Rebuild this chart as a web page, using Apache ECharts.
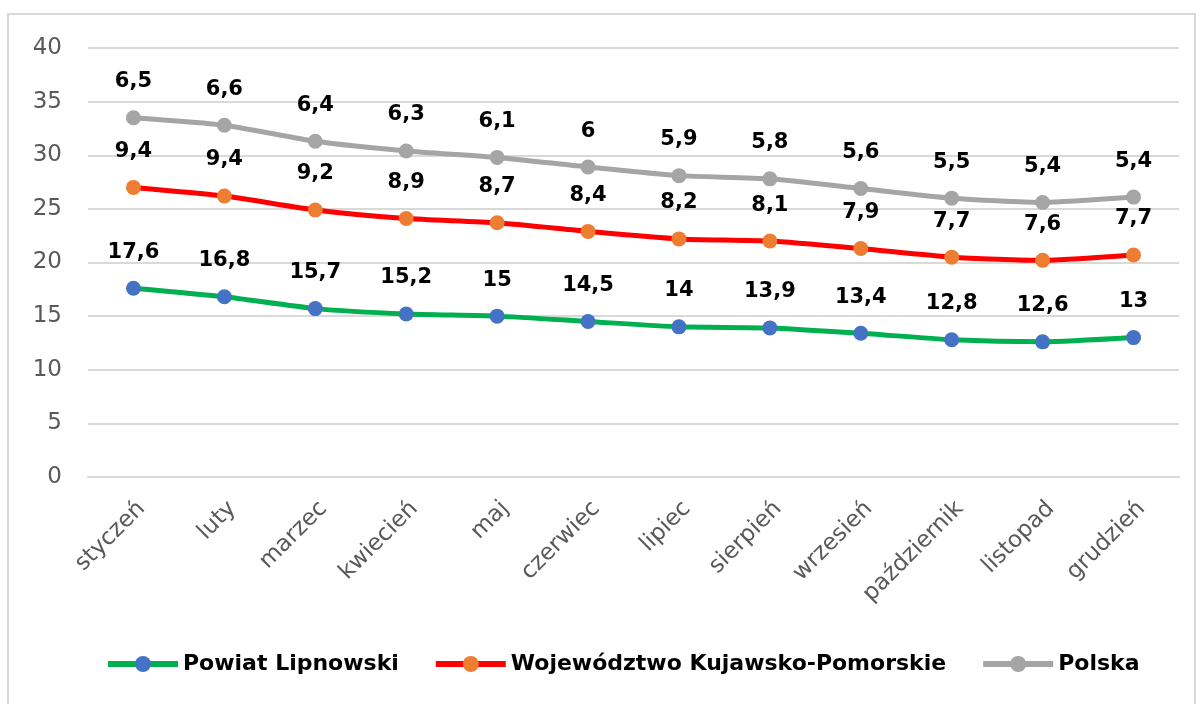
<!DOCTYPE html>
<html>
<head>
<meta charset="utf-8">
<script src="https://cdn.jsdelivr.net/npm/echarts@6/dist/echarts.min.js"></script>
<style>
  html, body { margin: 0; padding: 0; background: #fff; }
  #frame { position: absolute; left: 7px; top: 13px; width: 1189px; height: 700px; border: 2px solid #d9d9d9; box-sizing: border-box; }
  #chart { position: absolute; left: 0; top: 0; width: 1203px; height: 704px; }
</style>
</head>
<body>
<div id="frame"></div>
<div id="chart"></div>
<script>
const months = ["styczeń", "luty", "marzec", "kwiecień", "maj", "czerwiec", "lipiec", "sierpień", "wrzesień", "październik", "listopad", "grudzień"];
const powiat = [17.6, 16.8, 15.7, 15.2, 15, 14.5, 14, 13.9, 13.4, 12.8, 12.6, 13];
const wojewodztwo = [9.4, 9.4, 9.2, 8.9, 8.7, 8.4, 8.2, 8.1, 7.9, 7.7, 7.6, 7.7];
const polska = [6.5, 6.6, 6.4, 6.3, 6.1, 6, 5.9, 5.8, 5.6, 5.5, 5.4, 5.4];

const font = "'DejaVu Sans', sans-serif";
const fmt = (p) => String(p.value).replace(".", ",");

function series(name, data, lineColor, dotColor) {
  return {
    name,
    type: "line",
    stack: "total",
    data,
    smooth: 0.2,
    symbol: "circle",
    symbolSize: 15,
    lineStyle: { color: lineColor, width: 5 },
    itemStyle: { color: dotColor },
    label: {
      show: true,
      position: "top",
      distance: 18,
      formatter: fmt,
      color: "#000",
      fontWeight: "bold",
      fontSize: 21,
      fontFamily: font,
    },
  };
}

const chart = echarts.init(document.getElementById("chart"), null, { renderer: "canvas" });
chart.setOption({
  animation: false,
  backgroundColor: "transparent",
  grid: { left: 88, right: 24, top: 48, bottom: 227, containLabel: false },
  legend: {
    bottom: 24,
    left: 100,
    itemWidth: 70,
    itemHeight: 20,
    itemGap: 34,
    lineStyle: { width: 6 },
    textStyle: { color: "#000", fontWeight: "bold", fontSize: 22, fontFamily: font },
  },
  xAxis: {
    type: "category",
    data: months,
    boundaryGap: true,
    axisLine: { show: true, lineStyle: { color: "#d9d9d9", width: 2 } },
    axisTick: { show: false },
    axisLabel: { color: "#595959", fontSize: 23, fontFamily: font, rotate: 45, margin: 20, interval: 0, verticalAlign: "top" },
  },
  yAxis: {
    type: "value",
    min: 0,
    max: 40,
    interval: 5,
    axisLine: { show: false },
    axisTick: { show: false },
    axisLabel: { color: "#595959", fontSize: 23, fontFamily: font, margin: 26 },
    splitLine: { lineStyle: { color: "#d9d9d9", width: 2 } },
  },
  series: [
    series("Powiat Lipnowski", powiat, "#00b050", "#4472c4"),
    series("Województwo Kujawsko-Pomorskie", wojewodztwo, "#ff0000", "#ed7d31"),
    series("Polska", polska, "#a5a5a5", "#a5a5a5"),
  ],
});
</script>
</body>
</html>
